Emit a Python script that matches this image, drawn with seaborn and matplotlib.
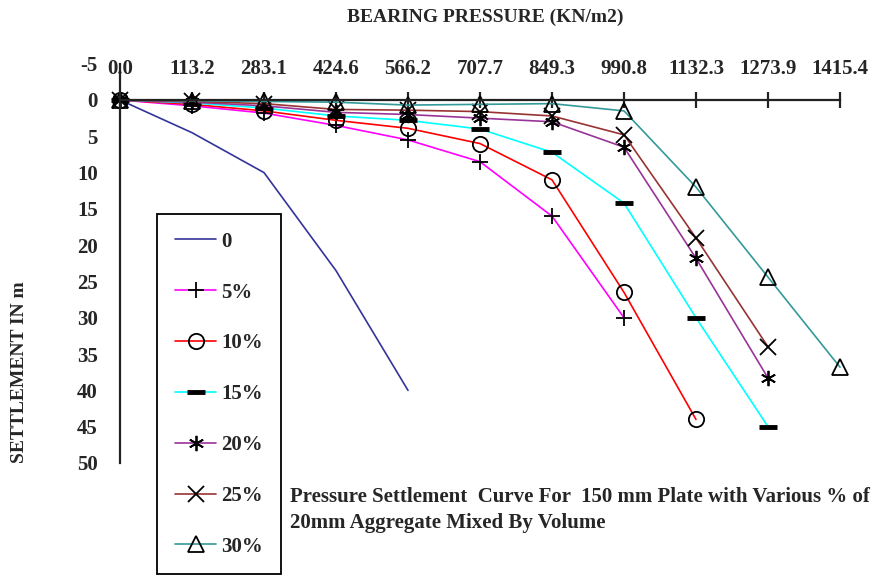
import matplotlib
matplotlib.use('Agg')
import matplotlib.pyplot as plt
import seaborn as sns

# 数据
pressure = [0, 141.5, 283.1, 424.6, 566.2, 707.7, 849.3, 990.8, 1132.3, 1273.9, 1415.4]
x_tick_labels = ['0.0', '113.2', '283.1', '424.6', '566.2', '707.7', '849.3',
                 '990.8', '1132.3', '1273.9', '1415.4']
y_ticks = [-5, 0, 5, 10, 15, 20, 25, 30, 35, 40, 45, 50]

labels = ['0', '5%', '10%', '15%', '20%', '25%', '30%']
s_0 = [0, 4.5, 10, 23.5, 40]
s_5 = [0, 0.8, 1.8, 3.5, 5.5, 8.5, 16, 30]
s_10 = [0, 0.6, 1.5, 2.8, 3.9, 6, 11, 26.5, 44]
s_15 = [0, 0.4, 1.1, 2.2, 2.8, 4, 7.2, 14.2, 30, 45]
s_20 = [0, 0.3, 0.8, 1.7, 2, 2.5, 3, 6.5, 21.8, 38.3]
s_25 = [0, 0.2, 0.5, 1.3, 1.4, 1.6, 2.2, 4.8, 19, 34]
s_30 = [0, 0.1, 0.2, 0.3, 0.7, 0.6, 0.5, 1.5, 12, 24.4, 36.8]
series = [s_0, s_5, s_10, s_15, s_20, s_25, s_30]

colors = ['#33339a', '#ff00ff', '#ff0000', '#00ffff', '#993399', '#993333', '#339999']
# 星号用 (6, 2, 0) 画成 Excel 那种米字形
markers = [None, '+', 'o', '_', (6, 2, 0), 'x', '^']

sns.set_style('white')
plt.rcParams['font.family'] = ['Liberation Serif', 'DejaVu Serif']
plt.rcParams['font.weight'] = 'bold'
plt.rcParams['axes.unicode_minus'] = False

fig = plt.figure(figsize=(8.74, 5.76), dpi=100)
ax = fig.add_axes([120 / 874, 1 - 463 / 576, 720 / 874, (463 - 63.7) / 576])

for vals, lab, c, m in zip(series, labels, colors, markers):
    kw = dict(color=c, linewidth=1.2, clip_on=False)
    if m is not None:
        kw.update(marker=m, markersize=11, markeredgecolor='black',
                  markerfacecolor='none', markeredgewidth=1.3)
        if m == '_':
            kw.update(markersize=13, markeredgewidth=3.5)
    sns.lineplot(x=pressure[:len(vals)], y=vals, ax=ax, label=lab, **kw)

ax.set_xlim(0, 1415.4)
ax.set_ylim(50, -5)

# 坐标轴样式
for side in ['right', 'bottom']:
    ax.spines[side].set_visible(False)
ax.spines['top'].set_position(('data', 0))
for side in ['top', 'left']:
    ax.spines[side].set_color('#222222')
    ax.spines[side].set_linewidth(1.6)

ax.xaxis.set_ticks_position('top')
ax.set_xticks(pressure)
ax.set_xticklabels(x_tick_labels)
ax.set_yticks(y_ticks)
ax.tick_params(axis='x', direction='inout', length=12, width=1.6, pad=9,
               labelsize=15, color='#222222')
ax.tick_params(axis='y', direction='inout', length=12, width=1.6, pad=10,
               labelsize=15, color='#222222')
ax.set_xlabel('')
ax.set_ylabel('')

fig.text(485 / 874, 1 - 17 / 576, 'BEARING PRESSURE (KN/m2)', ha='center', va='center',
         fontsize=14, fontweight='bold')
fig.text(20 / 874, 1 - 372 / 576, 'SETTLEMENT IN m', ha='center', va='center',
         rotation=90, fontsize=14, fontweight='bold')
fig.text(290 / 874, 1 - 497 / 576, 'Pressure Settlement  Curve For  150 mm Plate with Various % of',
         ha='left', va='center', fontsize=15, fontweight='bold')
fig.text(290 / 874, 1 - 523 / 576, '20mm Aggregate Mixed By Volume',
         ha='left', va='center', fontsize=15, fontweight='bold')

handles = ax.get_lines()[:7]
leg = ax.legend(handles, labels, loc='upper left', bbox_to_anchor=(157 / 874, 1 - 214 / 576),
                bbox_transform=fig.transFigure, borderaxespad=0, fontsize=15,
                handlelength=2.0, handletextpad=0.25, borderpad=0.85,
                labelspacing=1.48, fancybox=False, framealpha=1)
leg.get_frame().set_edgecolor('black')
leg.get_frame().set_linewidth(1.3)

plt.savefig('out.png', dpi=100)
